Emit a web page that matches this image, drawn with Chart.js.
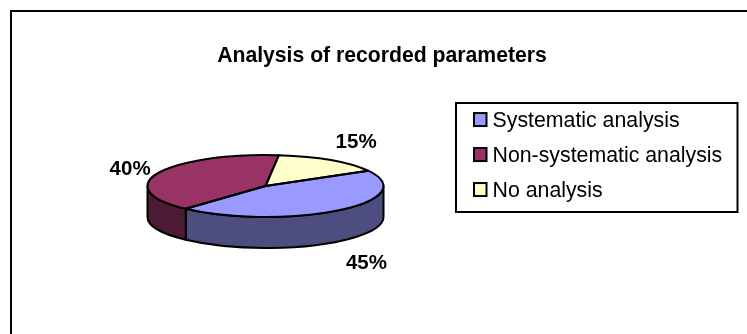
<!DOCTYPE html>
<html>
<head>
<meta charset="utf-8">
<title>Analysis of recorded parameters</title>
<script src="https://cdn.jsdelivr.net/npm/chart.js@4/dist/chart.umd.min.js"></script>
<style>
    html, body { margin: 0; padding: 0; background: #fff; }
    canvas { display: block; }
</style>
</head>
<body>
<canvas id="pieChart" width="747" height="334"></canvas>
<script>
    var categories = ['Systematic analysis', 'Non-systematic analysis', 'No analysis'];
    var shares = [45, 40, 15];
    var topColors = ['#9999FF', '#993366', '#FFFFCC'];
    var sideColors = ['#4D4D80', '#4D1A33', '#808066'];
    var chartTitle = 'Analysis of recorded parameters';

    // tilt of the disc and height of its rim
    var tilt = 31 / 118;
    var depth = 31;

    // value labels are placed relative to the rim of their slice
    var labelNudge = [[27.5, 22], [-28, -4], [25.5, -18]];

    function outlinePath(ctx, x, y, r, a, b) {
        ctx.beginPath();
        ctx.moveTo(x, y);
        ctx.ellipse(x, y, r, r * tilt, 0, a, b);
        ctx.closePath();
    }

    function drawWall(ctx, arc, fill) {
        var full = Math.PI * 2;
        [-full, 0, full].forEach(function (shift) {
            var a = Math.max(arc.startAngle + shift, 0);
            var b = Math.min(arc.endAngle + shift, Math.PI);
            if (b <= a) return;
            var ry = arc.outerRadius * tilt;
            ctx.beginPath();
            ctx.ellipse(arc.x, arc.y, arc.outerRadius, ry, 0, a, b);
            ctx.ellipse(arc.x, arc.y + depth, arc.outerRadius, ry, 0, b, a, true);
            ctx.closePath();
            ctx.fillStyle = fill;
            ctx.fill();
            ctx.stroke();
        });
    }

    var discPlugin = {
        id: 'disc',
        afterLayout: function (chart) {
            // title is centred on the outer frame, legend sits inside its own box
            chart.titleBlock.left = 10;
            chart.titleBlock.right = 754;
            var legend = chart.legend;
            var w = legend.width;
            legend.left = 459.2;
            legend.right = 459.2 + w;
            legend.top = 96.7;
            legend.bottom = 96.7 + legend.height;
            legend.adjustHitBoxes();
        },
        beforeDraw: function (chart) {
            var ctx = chart.ctx;
            ctx.save();
            ctx.strokeStyle = '#000';
            ctx.lineWidth = 2;
            ctx.beginPath();
            ctx.moveTo(11, 334);
            ctx.lineTo(11, 11);
            ctx.lineTo(747, 11);
            ctx.stroke();
            ctx.strokeRect(456, 103, 281.5, 109);
            ctx.restore();
        },
        beforeDatasetsDraw: function (chart) {
            var ctx = chart.ctx;
            var arcs = chart.getDatasetMeta(0).data;
            ctx.save();
            ctx.strokeStyle = '#000';
            ctx.lineWidth = 2;
            ctx.lineJoin = 'round';
            arcs.forEach(function (arc, i) { drawWall(ctx, arc, sideColors[i]); });
            ctx.restore();

            // squash the slices the library draws into the tilted disc
            ctx.save();
            ctx.translate(arcs[0].x, arcs[0].y);
            ctx.scale(1, tilt);
            ctx.translate(-arcs[0].x, -arcs[0].y);
        },
        afterDatasetsDraw: function (chart) {
            var ctx = chart.ctx;
            var arcs = chart.getDatasetMeta(0).data;
            ctx.restore();

            ctx.save();
            ctx.strokeStyle = '#000';
            ctx.lineWidth = 2;
            ctx.lineJoin = 'round';
            arcs.forEach(function (arc) {
                outlinePath(ctx, arc.x, arc.y, arc.outerRadius, arc.startAngle, arc.endAngle);
                ctx.stroke();
            });

            ctx.fillStyle = '#000';
            ctx.font = 'bold 20.5px "Liberation Sans", Arial, sans-serif';
            ctx.textAlign = 'center';
            ctx.textBaseline = 'middle';
            arcs.forEach(function (arc, i) {
                var mid = (arc.startAngle + arc.endAngle) / 2;
                var y = arc.y + Math.sin(mid) * arc.outerRadius * tilt;
                if (Math.sin(mid) > 0) y += depth;
                var x = arc.x + Math.cos(mid) * arc.outerRadius;
                ctx.fillText(shares[i] + '%', x + labelNudge[i][0], y + labelNudge[i][1]);
            });
            ctx.restore();
        },
        afterDraw: function (chart) {
            // legend swatches, a little wider than the gap the library leaves for them
            var ctx = chart.ctx;
            ctx.save();
            ctx.strokeStyle = '#000';
            ctx.lineWidth = 2;
            chart.legend.legendHitBoxes.forEach(function (box, i) {
                var mid = box.top + box.height / 2 - 1.5;
                ctx.fillStyle = topColors[i];
                ctx.fillRect(474, mid - 6.5, 12.5, 13);
                ctx.strokeRect(474, mid - 6.5, 12.5, 13);
            });
            ctx.restore();
        }
    };

    new Chart(document.getElementById('pieChart').getContext('2d'), {
        type: 'pie',
        data: {
            labels: categories,
            datasets: [{
                data: shares,
                backgroundColor: topColors,
                borderWidth: 0
            }]
        },
        options: {
            responsive: false,
            animation: false,
            events: [],
            rotation: 60.5,
            layout: { padding: { left: 147.5, right: 363.5, top: 44, bottom: 30 } },
            plugins: {
                tooltip: { enabled: false },
                title: {
                    display: true,
                    text: chartTitle,
                    color: '#000',
                    padding: { top: 0, bottom: 0 },
                    font: { family: '"Liberation Sans", Arial, sans-serif', size: 21.2, weight: 'bold', lineHeight: 1.13 }
                },
                legend: {
                    position: 'chartArea',
                    align: 'start',
                    maxWidth: 300,
                    labels: {
                        color: '#000',
                        boxWidth: 9,
                        boxHeight: 12,
                        padding: 13.7,
                        font: { family: '"Liberation Sans", Arial, sans-serif', size: 21.3 },
                        generateLabels: function (chart) {
                            var items = Chart.overrides.pie.plugins.legend.labels.generateLabels(chart);
                            items.forEach(function (item) {
                                item.fillStyle = 'transparent';
                                item.lineWidth = 0;
                            });
                            return items;
                        }
                    }
                }
            }
        },
        plugins: [discPlugin]
    });
</script>
</body>
</html>
